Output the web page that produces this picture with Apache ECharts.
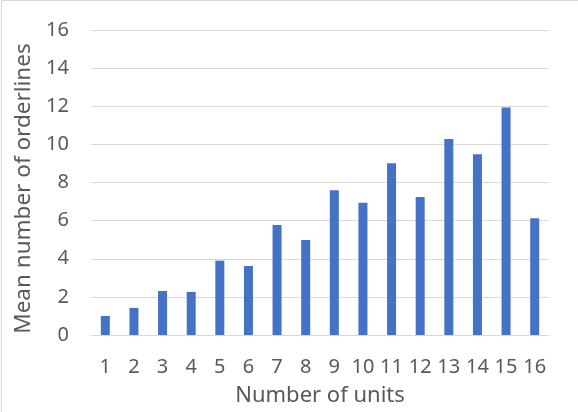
<!DOCTYPE html>
<html>
<head>
<meta charset="utf-8">
<script src="https://cdn.jsdelivr.net/npm/echarts@6/dist/echarts.min.js"></script>
<style>
  html, body { margin: 0; padding: 0; background: #ffffff; }
  #chart { width: 578px; height: 412px; }
</style>
</head>
<body>
<div id="chart"></div>
<script>
// Number of units per order and the mean number of orderlines for each
const units = ['1', '2', '3', '4', '5', '6', '7', '8', '9', '10', '11', '12', '13', '14', '15', '16'];
const meanOrderlines = [1.0, 1.42, 2.31, 2.26, 3.90, 3.62, 5.77, 4.98, 7.59, 6.94, 9.01, 7.24, 10.28, 9.48, 11.93, 6.12];
const yTicks = [0, 2, 4, 6, 8, 10, 12, 14, 16];

const textColor = '#595959';
const gridColor = '#d9d9d9';
const fontFamily = '"Noto Sans", "Open Sans", sans-serif';

const chart = echarts.init(document.getElementById('chart'), null, { renderer: 'canvas' });

chart.setOption({
  backgroundColor: '#ffffff',
  animation: false,
  textStyle: { fontFamily: fontFamily },
  graphic: [{
    type: 'rect',
    shape: { x: 1.5, y: 0.5, width: 600, height: 440 },
    style: { fill: 'none', stroke: gridColor, lineWidth: 1 },
    silent: true,
    z: -1
  }],
  grid: { left: 91, right: 29, top: 30, bottom: 77, containLabel: false },
  xAxis: {
    type: 'category',
    data: units,
    name: 'Number of units',
    nameLocation: 'middle',
    nameGap: 50,
    nameTextStyle: { color: textColor, fontSize: 22, fontFamily: fontFamily },
    axisLine: { show: true, lineStyle: { color: gridColor, width: 1 } },
    axisTick: { show: false },
    axisLabel: { color: textColor, fontSize: 20, margin: 22, interval: 0, fontFamily: fontFamily }
  },
  yAxis: {
    type: 'value',
    min: yTicks[0],
    max: yTicks[yTicks.length - 1],
    interval: yTicks[1] - yTicks[0],
    name: 'Mean number of orderlines',
    nameLocation: 'middle',
    nameGap: 53,
    nameTextStyle: { color: textColor, fontSize: 22.5, fontFamily: fontFamily, padding: [0, 12, 0, 0] },
    axisLine: { show: false },
    axisTick: { show: false },
    axisLabel: { color: textColor, fontSize: 20, margin: 22, fontFamily: fontFamily },
    splitLine: { show: true, lineStyle: { color: gridColor, width: 1 } }
  },
  series: [{
    type: 'bar',
    data: meanOrderlines,
    barWidth: 9,
    itemStyle: { color: '#4472c4' }
  }]
});
</script>
</body>
</html>
